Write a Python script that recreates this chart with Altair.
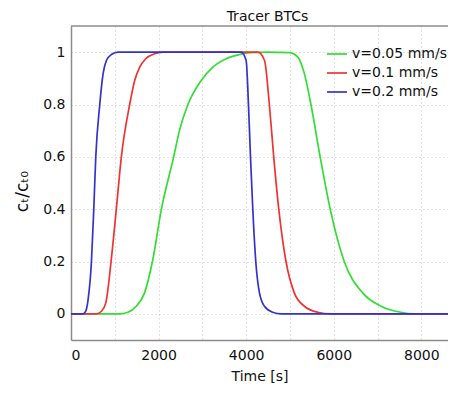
import altair as alt
import pandas as pd

series_names = ["v=0.05 mm/s", "v=0.1 mm/s", "v=0.2 mm/s"]
colors = ["#33dd33", "#ee3333", "#3333cc"]

t_green = [0, 1110, 1300, 1490, 1680, 1860, 2065, 2345, 2480, 2670, 2975, 3240, 3545, 3850, 4080,
           4500, 4990, 5180, 5330, 5480, 5690, 5920, 6240, 6660, 7080, 7530, 7840, 9000]
c_green = [0, 0, 0.006, 0.029, 0.08, 0.2, 0.4, 0.6, 0.702, 0.8, 0.892, 0.943, 0.975, 0.991, 0.998,
           1.0, 0.998, 0.981, 0.918, 0.8, 0.6, 0.4, 0.2, 0.08, 0.029, 0.006, 0, 0]

t_red = [0, 580, 695, 795, 915, 1035, 1150, 1340, 1455, 1570, 1705, 1910, 2100,
         4270, 4420, 4530, 4630, 4745, 4910, 5100, 5330, 5635, 5940, 9000]
c_red = [0, 0, 0.01, 0.042, 0.2, 0.4, 0.6, 0.8, 0.892, 0.943, 0.975, 0.994, 1,
         1, 0.968, 0.8, 0.6, 0.4, 0.2, 0.08, 0.029, 0.006, 0, 0]

t_blue = [0, 277, 338, 391, 467, 520, 566, 657, 733, 809, 923, 1075,
          3886, 4000, 4053, 4099, 4152, 4220, 4304, 4418, 4608, 4800, 9000]
c_blue = [0, 0, 0.01, 0.055, 0.2, 0.4, 0.6, 0.8, 0.918, 0.968, 0.991, 1,
          1, 0.968, 0.8, 0.6, 0.4, 0.2, 0.08, 0.029, 0.006, 0, 0]

x_ticks = [0, 1000, 2000, 3000, 4000, 5000, 6000, 7000, 8000]
y_ticks = [0, 0.2, 0.4, 0.6, 0.8, 1]

rows = []
for name, ts, cs in zip(series_names, [t_green, t_red, t_blue], [c_green, c_red, c_blue]):
    for t, c in zip(ts, cs):
        rows.append({"series": name, "t": t, "c": c})
df = pd.DataFrame(rows)

FONT = "DejaVu Sans"

lines = alt.Chart(df).mark_line(strokeWidth=1.7, interpolate="monotone", clip=True).encode(
    x=alt.X("t:Q",
            scale=alt.Scale(domain=[0, 8610], nice=False, zero=False),
            axis=alt.Axis(values=x_ticks,
                          labelExpr="datum.value % 2000 == 0 ? format(datum.value, 'd') : ''",
                          title="Time [s]", titlePadding=7, labelPadding=8)),
    y=alt.Y("c:Q",
            scale=alt.Scale(domain=[-0.1, 1.1], nice=False),
            axis=alt.Axis(values=y_ticks, format="~g", title="cₜ/cₜ₀",
                          titleX=-49, titleY=165, titleAngle=270, titleFontSize=17,
                          titleAlign="center", titleBaseline="middle", labelPadding=6)),
    color=alt.Color("series:N",
                    scale=alt.Scale(domain=series_names, range=colors),
                    sort=series_names,
                    legend=alt.Legend(title=None, orient="none", legendX=255, legendY=17,
                                      symbolType="stroke", symbolSize=400,
                                      symbolStrokeWidth=1.7, labelFontSize=14,
                                      labelFont=FONT, labelColor="#111",
                                      labelOffset=4, rowPadding=1, padding=0)),
    order=alt.Order("t:Q"),
)

top_border = alt.Chart(alt.Data(values=[{}])).mark_rule(color="#8c8c8c", strokeWidth=1.5).encode(
    y=alt.value(0)
)

chart = alt.layer(lines, top_border).properties(
    width=377,
    height=314,
    autosize=alt.AutoSizeParams(type="none"),
    padding={"left": 63, "top": 18, "right": 0, "bottom": 46},
    title=alt.TitleParams("Tracer BTCs", font=FONT, fontSize=14, fontWeight="normal",
                          color="#111", dx=8, dy=5, offset=6),
).configure_view(stroke=None).configure_axis(
    labelFont=FONT, labelFontSize=14, labelColor="#111",
    titleFont=FONT, titleFontSize=14, titleColor="#111", titleFontWeight="normal",
    ticks=False, grid=True, gridColor="#c4c4c4", gridDash=[1, 3], gridWidth=1,
    domainColor="#8c8c8c", domainWidth=1.5,
)

chart.save("out.html", embed_options={"renderer": "svg", "actions": False})
